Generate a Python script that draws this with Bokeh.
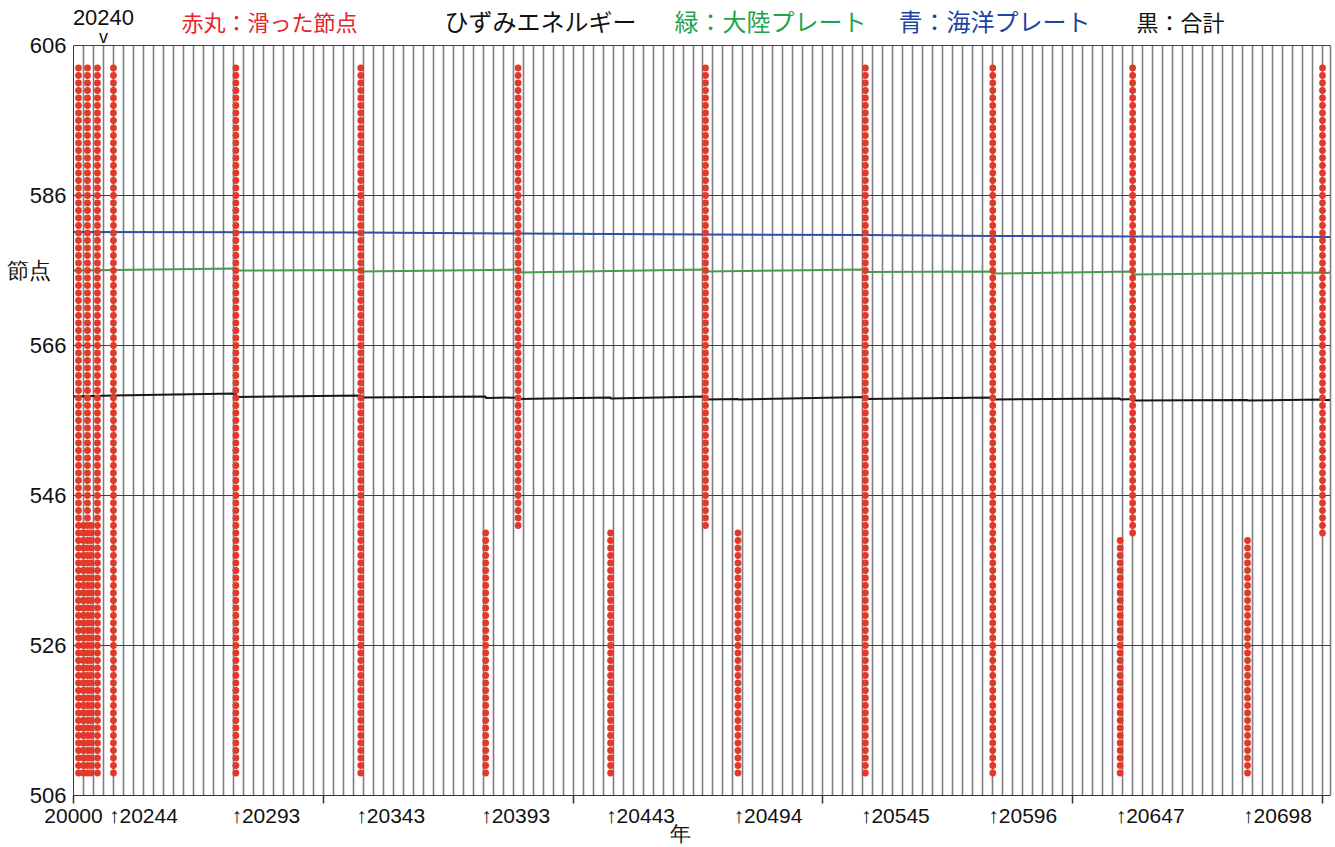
from bokeh.plotting import figure
from bokeh.models import Range1d, FixedTicker, Label, Grid
from bokeh.embed import file_html
from bokeh.resources import INLINE

# ---------------- data ----------------
# slip columns: year position, lowest slipped node, highest slipped node
slip_year = [20230, 20232, 20233.6, 20235, 20237.6, 20244, 20293, 20343, 20393, 20406,
             20443, 20481, 20494, 20545, 20596, 20647, 20652, 20698, 20728]
slip_lo = [509, 509, 509, 509, 509, 509, 509, 509, 509, 542,
           509, 542, 509, 509, 509, 509, 541, 509, 541]
slip_hi = [603, 542, 603, 542, 603, 603, 603, 603, 541, 603,
           541, 603, 541, 603, 603, 540, 603, 540, 603]

# strain energy curves (plotted on the node scale)
black_year = [20228, 20244, 20293, 20293, 20343, 20343, 20393, 20393, 20406, 20406,
              20443, 20443, 20481, 20481, 20494, 20494, 20545, 20545, 20596, 20596,
              20647, 20647, 20652, 20652, 20698, 20698, 20728, 20728, 20731]
black_val = [559.2, 559.33, 559.6, 559.13, 559.33, 559.07, 559.2, 559.0, 559.07, 558.87,
             559.07, 558.93, 559.2, 558.8, 558.87, 558.8, 559.13, 558.87, 559.07, 558.8,
             558.93, 558.8, 558.87, 558.67, 558.73, 558.67, 558.8, 558.73, 558.73]

green_year = [20228, 20293, 20293, 20343, 20343, 20406, 20406, 20481, 20481, 20545, 20545,
              20596, 20596, 20652, 20652, 20728, 20728, 20731]
green_val = [576.0, 576.27, 576.0, 576.07, 575.87, 576.13, 575.73, 576.13, 575.87, 576.13, 575.8,
             575.87, 575.6, 575.87, 575.47, 575.73, 575.6, 575.73]

blue_year = [20228, 20343, 20406, 20481, 20545, 20596, 20652, 20731]
blue_val = [581.13, 581.07, 580.93, 580.8, 580.73, 580.6, 580.53, 580.47]

bottom_ticks = [20244, 20293, 20343, 20393, 20443, 20494, 20545, 20596, 20647, 20698]
bottom_start_label = "20000"
x_title = "年"
y_title = "節点"
marker_year = 20240
y_ticks = [506, 526, 546, 566, 586, 606]

titles = ["赤丸：滑った節点", "ひずみエネルギー", "緑：大陸プレート", "青：海洋プレート", "黒：合計"]
title_colors = ["#e5242b", "#111111", "#1fa34a", "#1d44a3", "#111111"]

# ---------------- layout helpers ----------------
W, H = 1335, 847
L, R, T, B = 73, 1330, 45, 795
PX_PER_YEAR = 2.498
X0 = 20228
X1 = X0 + (R - L) / PX_PER_YEAR
Y0, Y1 = 506, 606
PX_PER_NODE = (B - T) / (Y1 - Y0)


def px_x(px):
    return X0 + (px - L) / PX_PER_YEAR


def px_y(py):
    return Y1 - (py - T) / PX_PER_NODE


# the frame reaches the top and right edges of the canvas so that the
# heading texts can live inside it
p = figure(width=W, height=H, output_backend="svg", toolbar_location=None,
           x_range=Range1d(X0, px_x(W)), y_range=Range1d(Y0, px_y(0)),
           min_border_left=L, min_border_right=0, min_border_top=0,
           min_border_bottom=H - B)
p.background_fill_color = "white"
p.border_fill_color = "white"
p.outline_line_color = None

grid_years = [X0 + 4 * k for k in range(126)] + [X1]
has_cross = "cross_bounds" in Grid.properties()
if has_cross:
    p.xgrid.ticker = FixedTicker(ticks=grid_years)
    p.xgrid.cross_bounds = (Y0, Y1)
    p.ygrid.ticker = FixedTicker(ticks=y_ticks)
    p.ygrid.cross_bounds = (X0, X1)
    p.xgrid.grid_line_color = "#7d7d84"
    p.xgrid.grid_line_width = 1.6
    p.ygrid.grid_line_color = "#404040"
    p.ygrid.grid_line_width = 1.2
else:
    p.xgrid.visible = False
    p.ygrid.visible = False
    p.segment(x0=grid_years, y0=[Y0] * len(grid_years), x1=grid_years, y1=[Y1] * len(grid_years),
              line_color="#7d7d84", line_width=1.6)
    p.segment(x0=[X0] * len(y_ticks), y0=y_ticks, x1=[X1] * len(y_ticks), y1=y_ticks,
              line_color="#404040", line_width=1.2)

# x axis: labelled event years (arrow + number), 100-year minor tick marks
lab_ticks = [X0] + [t + 12 for t in bottom_ticks] + [20471]
overrides = {X0: bottom_start_label}
for t in bottom_ticks:
    overrides[t + 12] = "↑" + str(t)
overrides[20471] = "\n" + x_title
p.xaxis.ticker = FixedTicker(ticks=lab_ticks, minor_ticks=[X0 + 100 * k for k in range(6)])
p.xaxis.major_label_overrides = overrides
p.xaxis.bounds = (X0, X1)
p.xaxis.major_tick_line_color = None
p.xaxis.major_tick_in = 0
p.xaxis.major_tick_out = 0
p.xaxis.minor_tick_in = 0
p.xaxis.minor_tick_out = 8
p.xaxis.minor_tick_line_color = "#333333"
p.xaxis.minor_tick_line_width = 1.5
p.xaxis.axis_line_color = "#333333"
p.xaxis.major_label_standoff = 0
p.xaxis.major_label_text_font = "Liberation Sans"
p.xaxis.major_label_text_font_size = "21px"
p.xaxis.major_label_text_line_height = 0.8
p.xaxis.major_label_text_color = "#111111"

p.yaxis.ticker = FixedTicker(ticks=y_ticks + [576])
p.yaxis.major_label_overrides = {576: y_title + "\u2002\u2009"}
p.yaxis.bounds = (Y0, Y1)
p.yaxis.major_tick_line_color = None
p.yaxis.major_tick_in = 0
p.yaxis.major_tick_out = 0
p.yaxis.minor_tick_line_color = None
p.yaxis.minor_tick_out = 0
p.yaxis.axis_line_color = "#333333"
p.yaxis.major_label_text_font = "Liberation Sans"
p.yaxis.major_label_text_font_size = "22px"
p.yaxis.major_label_text_color = "#111111"
p.yaxis.major_label_standoff = 7

# energy lines
p.line(blue_year, blue_val, line_color="#2f4fa5", line_width=2)
p.line(green_year, green_val, line_color="#4a9a4e", line_width=2)
p.line(black_year, black_val, line_color="#151515", line_width=2)

# slipped nodes
xs, ys = [], []
for yr, lo, hi in zip(slip_year, slip_lo, slip_hi):
    for n in range(lo, hi + 1):
        xs.append(yr)
        ys.append(n)
p.scatter(x=xs, y=ys, size=6.8, fill_color="#e03a2a", line_color=None)

# ---------------- heading texts ----------------
jp_font = "Noto Sans CJK JP"
title_centers = [269, 540, 770, 994, 1180]
title_sizes = ["22px", "24px", "24px", "24px", "22px"]
for t, c, cx, fs in zip(titles, title_colors, title_centers, title_sizes):
    p.add_layout(Label(x=px_x(cx), y=px_y(20), text=t, text_color=c, text_font=jp_font,
                       text_font_size=fs, text_align="center", text_baseline="middle"))

p.add_layout(Label(x=marker_year, y=px_y(17), text=str(marker_year), text_font="Liberation Sans",
                   text_font_size="22px", text_align="center", text_baseline="middle",
                   text_color="#111111"))
p.add_layout(Label(x=marker_year, y=px_y(36), text="v", text_font="Liberation Sans",
                   text_font_size="18px", text_align="center", text_baseline="middle",
                   text_color="#111111"))

open("out.html", "w").write(file_html(p, INLINE))
